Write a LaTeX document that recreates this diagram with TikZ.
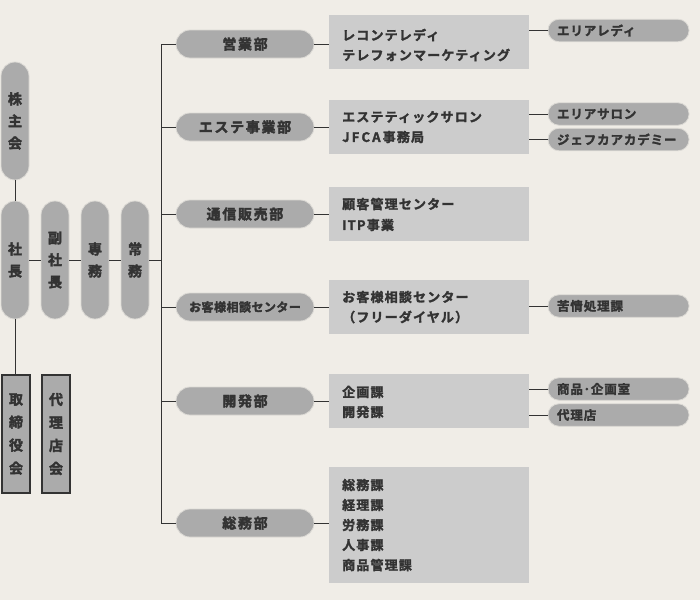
\documentclass[tikz,border=0pt]{standalone}
\usepackage{fontspec}
\setmainfont{Noto Sans CJK JP}
\newfontfamily\jpbox{Noto Sans CJK JP Bold}[LetterSpace=9, FakeBold=2]
\newfontfamily\jpdept{Noto Sans CJK JP Bold}[LetterSpace=12, FakeBold=2.5]
\newfontfamily\jpsmall{Noto Sans CJK JP Bold}[LetterSpace=4, FakeBold=2.5]
\newfontfamily\jpright{Noto Sans CJK JP Bold}[LetterSpace=7, FakeBold=2]
\newfontfamily\jpvert{Noto Sans CJK JP Bold}[FakeBold=2.5]
\definecolor{bg}{HTML}{F0EDE7}
\definecolor{pillfill}{HTML}{ABABAB}
\definecolor{pillline}{HTML}{DCDAD5}
\definecolor{boxfill}{HTML}{CCCCCC}
\definecolor{ink}{HTML}{333333}
\definecolor{wire}{HTML}{333333}
\tikzset{
  pillv/.style={draw=pillline, line width=0.8pt, fill=pillfill, rounded corners=14pt,
    minimum width=28pt, minimum height=118pt, inner sep=0pt, text=ink,
    font=\jpvert\fontsize{14pt}{22pt}\selectfont, align=center},
  rectv/.style={draw=wire, line width=1.2pt, fill=pillfill, minimum width=28pt,
    minimum height=118pt, inner sep=0pt, text=ink,
    font=\jpvert\fontsize{14pt}{23pt}\selectfont, align=center},
  dept/.style={draw=pillline, line width=0.8pt, fill=pillfill, rounded corners=14pt,
    minimum width=138pt, minimum height=28pt, inner sep=0pt, text=ink,
    font=\jpdept\fontsize{14pt}{16pt}\selectfont},
  deptsmall/.style={dept, font=\jpsmall\fontsize{12pt}{14pt}\selectfont},
  unitbox/.style={fill=boxfill, minimum width=200pt, inner sep=0pt},
  boxtext/.style={anchor=west, inner sep=0pt, text=ink, font=\jpbox\fontsize{13pt}{15pt}\selectfont},
  rpill/.style={draw=pillline, line width=0.8pt, fill=pillfill, rounded corners=11pt,
    minimum width=141pt, minimum height=22.5pt, inner sep=0pt, text=ink,
    text width=123pt, align=left, font=\jpright\fontsize{12.5pt}{14pt}\selectfont},
  wireline/.style={draw=wire, line width=1pt}
}
\begin{document}
\begin{tikzpicture}[x=1pt,y=-1pt]
\fill[bg] (0,0) rectangle (700,600);
\useasboundingbox (0,0) rectangle (700,600);

% left column
\node[pillv] (kabu) at (15,121) {株\\主\\会};
\node[pillv] (shacho) at (15,260) {社\\長};
\node[pillv] (fuku) at (55,260) {副\\社\\長};
\node[pillv] (senmu) at (95,260) {専\\務};
\node[pillv] (jomu) at (135,260) {常\\務};
\node[rectv] (tori) at (16,434) {取\\締\\役\\会};
\node[rectv] (dairikai) at (56,434) {代\\理\\店\\会};

\coordinate (trtop) at (161,44);
\coordinate (trbot) at (161,523);

% departments
\node[dept] (d1) at (245,44) {営業部};
\node[dept] (d2) at (245,127) {エステ事業部};
\node[dept] (d3) at (245,214) {通信販売部};
\node[deptsmall] (d4) at (245,307) {お客様相談センター};
\node[dept] (d5) at (245,401) {開発部};
\node[dept] (d6) at (245,523) {総務部};

% unit boxes
\node[unitbox, minimum height=54pt] (b1) at (429,42) {};
\node[unitbox, minimum height=54pt] (b2) at (429,127) {};
\node[unitbox, minimum height=54pt] (b3) at (429,214) {};
\node[unitbox, minimum height=54pt] (b4) at (429,307) {};
\node[unitbox, minimum height=54pt] (b5) at (429,401) {};
\node[unitbox, minimum height=116pt] (b6) at (429,525) {};

\node[boxtext] (t11) at (342,35) {レコンテレディ};
\node[boxtext] (t12) at (342,55) {テレフォンマーケティング};
\node[boxtext] (t21) at (342,117) {エステティックサロン};
\node[boxtext] (t22) at (342,137) {J\,F\,C\,A\,事務局};
\node[boxtext] (t31) at (342,204) {顧客管理センター};
\node[boxtext] (t32) at (342,225) {ITP事業};
\node[boxtext] (t41) at (342,297) {お客様相談センター};
\node[boxtext] (t42) at (342,317) {（フリーダイヤル）};
\node[boxtext] (t51) at (342,392) {企画課};
\node[boxtext] (t52) at (342,412) {開発課};
\node[boxtext] (t61) at (342,485) {総務課};
\node[boxtext] (t62) at (342,505) {経理課};
\node[boxtext] (t63) at (342,525) {労務課};
\node[boxtext] (t64) at (342,545) {人事課};
\node[boxtext] (t65) at (342,565) {商品管理課};

% right pills
\node[rpill] (r1) at (618.5,30.5) {エリアレディ};
\node[rpill] (r2) at (618.5,114) {エリアサロン};
\node[rpill] (r3) at (618.5,139.5) {ジェフカアカデミー};
\node[rpill] (r4) at (618.5,306) {苦情処理課};
\node[rpill] (r5) at (618.5,389) {商品･企画室};
\node[rpill] (r6) at (618.5,415) {代理店};

% connectors left
\draw[wireline] (kabu.south) -- (shacho.north);
\draw[wireline] (shacho.south) -- (tori.north -| shacho.south);
\draw[wireline] (shacho.east) -- (fuku.west);
\draw[wireline] (fuku.east) -- (senmu.west);
\draw[wireline] (senmu.east) -- (jomu.west);
\draw[wireline] (jomu.east) -- (jomu.east -| trtop);
\draw[wireline] (trtop) -- (trbot);
\foreach \d in {d1,d2,d3,d4,d5,d6}{
  \draw[wireline] (\d.west -| trtop) -- (\d.west);
}
\draw[wireline] (d1.east) -- (d1.east -| b1.west);
\draw[wireline] (d2.east) -- (d2.east -| b2.west);
\draw[wireline] (d3.east) -- (d3.east -| b3.west);
\draw[wireline] (d4.east) -- (d4.east -| b4.west);
\draw[wireline] (d5.east) -- (d5.east -| b5.west);
\draw[wireline] (d6.east) -- (d6.east -| b6.west);

% connectors right
\draw[wireline] (r1.west -| b1.east) -- (r1.west);
\draw[wireline] (r2.west -| b2.east) -- (r2.west);
\draw[wireline] (r3.west -| b2.east) -- (r3.west);
\draw[wireline] (r4.west -| b4.east) -- (r4.west);
\draw[wireline] (r5.west -| b5.east) -- (r5.west);
\draw[wireline] (r6.west -| b5.east) -- (r6.west);
\end{tikzpicture}
\end{document}
